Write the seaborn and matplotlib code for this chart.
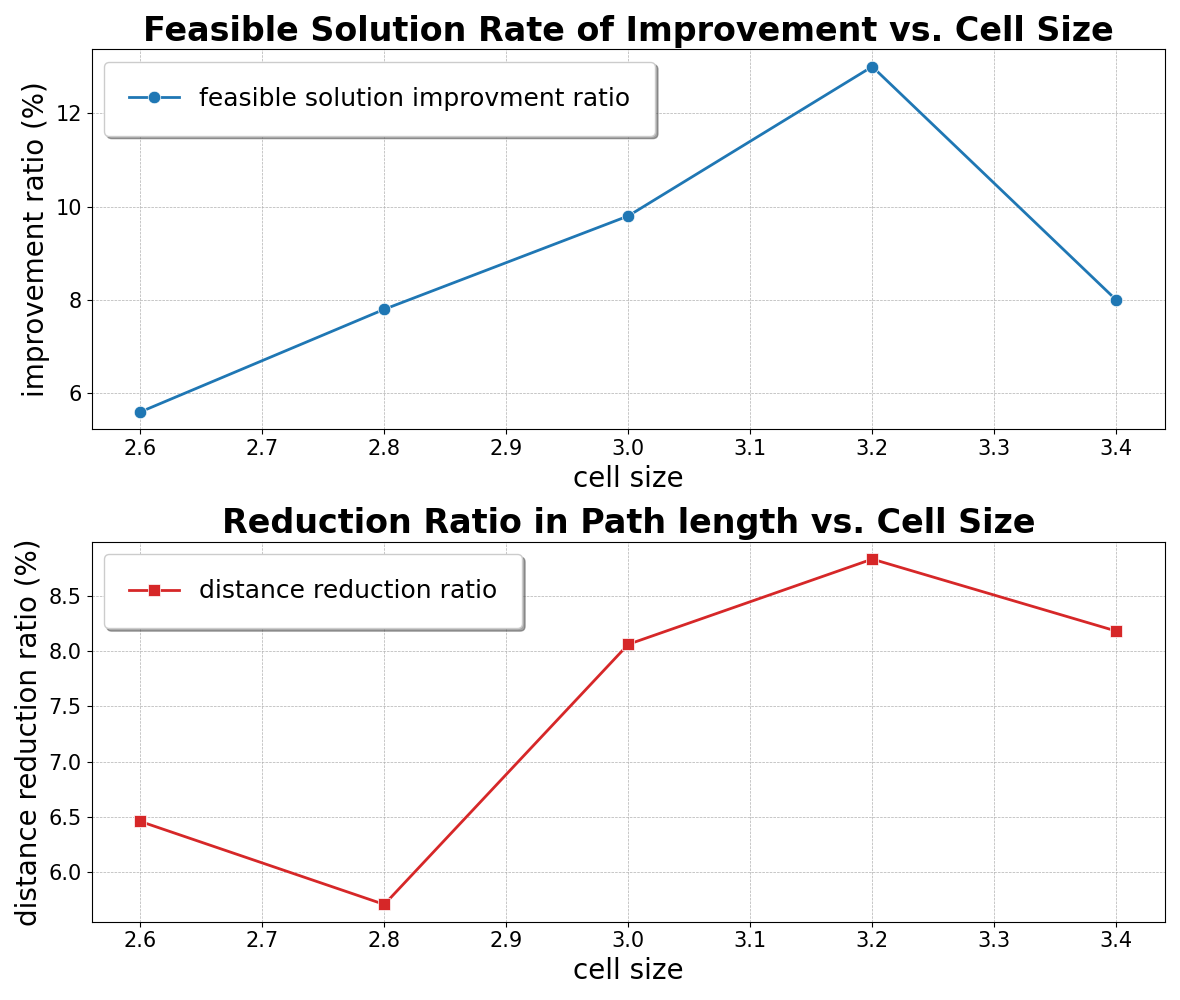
import matplotlib
matplotlib.use("Agg")
import matplotlib.pyplot as plt
from matplotlib.ticker import MultipleLocator
import seaborn as sns
import pandas as pd

cell_size = [2.6, 2.8, 3.0, 3.2, 3.4]
feasible_improvement = [5.6, 7.8, 9.8, 13.0, 8.0]
distance_reduction = [6.46, 5.71, 8.06, 8.83, 8.18]

plt.rcParams['font.family'] = ['DejaVu Sans']

df1 = pd.DataFrame({"cell size": cell_size, "val": feasible_improvement})
df2 = pd.DataFrame({"cell size": cell_size, "val": distance_reduction})

fig, axes = plt.subplots(2, 1, figsize=(11.8, 10), dpi=100)

ax = axes[0]
sns.lineplot(data=df1, x="cell size", y="val", marker="o", color="#1f77b4",
             linewidth=2, markersize=9, markeredgewidth=0.5,
             label="feasible solution improvment ratio", ax=ax)
ax.set_title("Feasible Solution Rate of Improvement vs. Cell Size", fontsize=24, fontweight="bold")
ax.set_xlabel("cell size", fontsize=20)
ax.set_ylabel("improvement ratio (%)", fontsize=20)
ax.yaxis.set_major_locator(MultipleLocator(2))

ax = axes[1]
sns.lineplot(data=df2, x="cell size", y="val", marker="s", color="#d62728",
             linewidth=2, markersize=9, markeredgewidth=0.5,
             label="distance reduction ratio", ax=ax)
ax.set_title("Reduction Ratio in Path length vs. Cell Size", fontsize=24, fontweight="bold")
ax.set_xlabel("cell size", fontsize=20)
ax.set_ylabel("distance reduction ratio (%)", fontsize=20)

for ax in axes:
    ax.grid(True, linestyle="--", linewidth=0.5, color="#b0b0b0")
    ax.tick_params(labelsize=15)
    ax.legend(loc="upper left", fontsize=18, shadow=True, fancybox=True,
              borderpad=1, framealpha=1)

plt.tight_layout()
fig.savefig("out.png", dpi=100)
